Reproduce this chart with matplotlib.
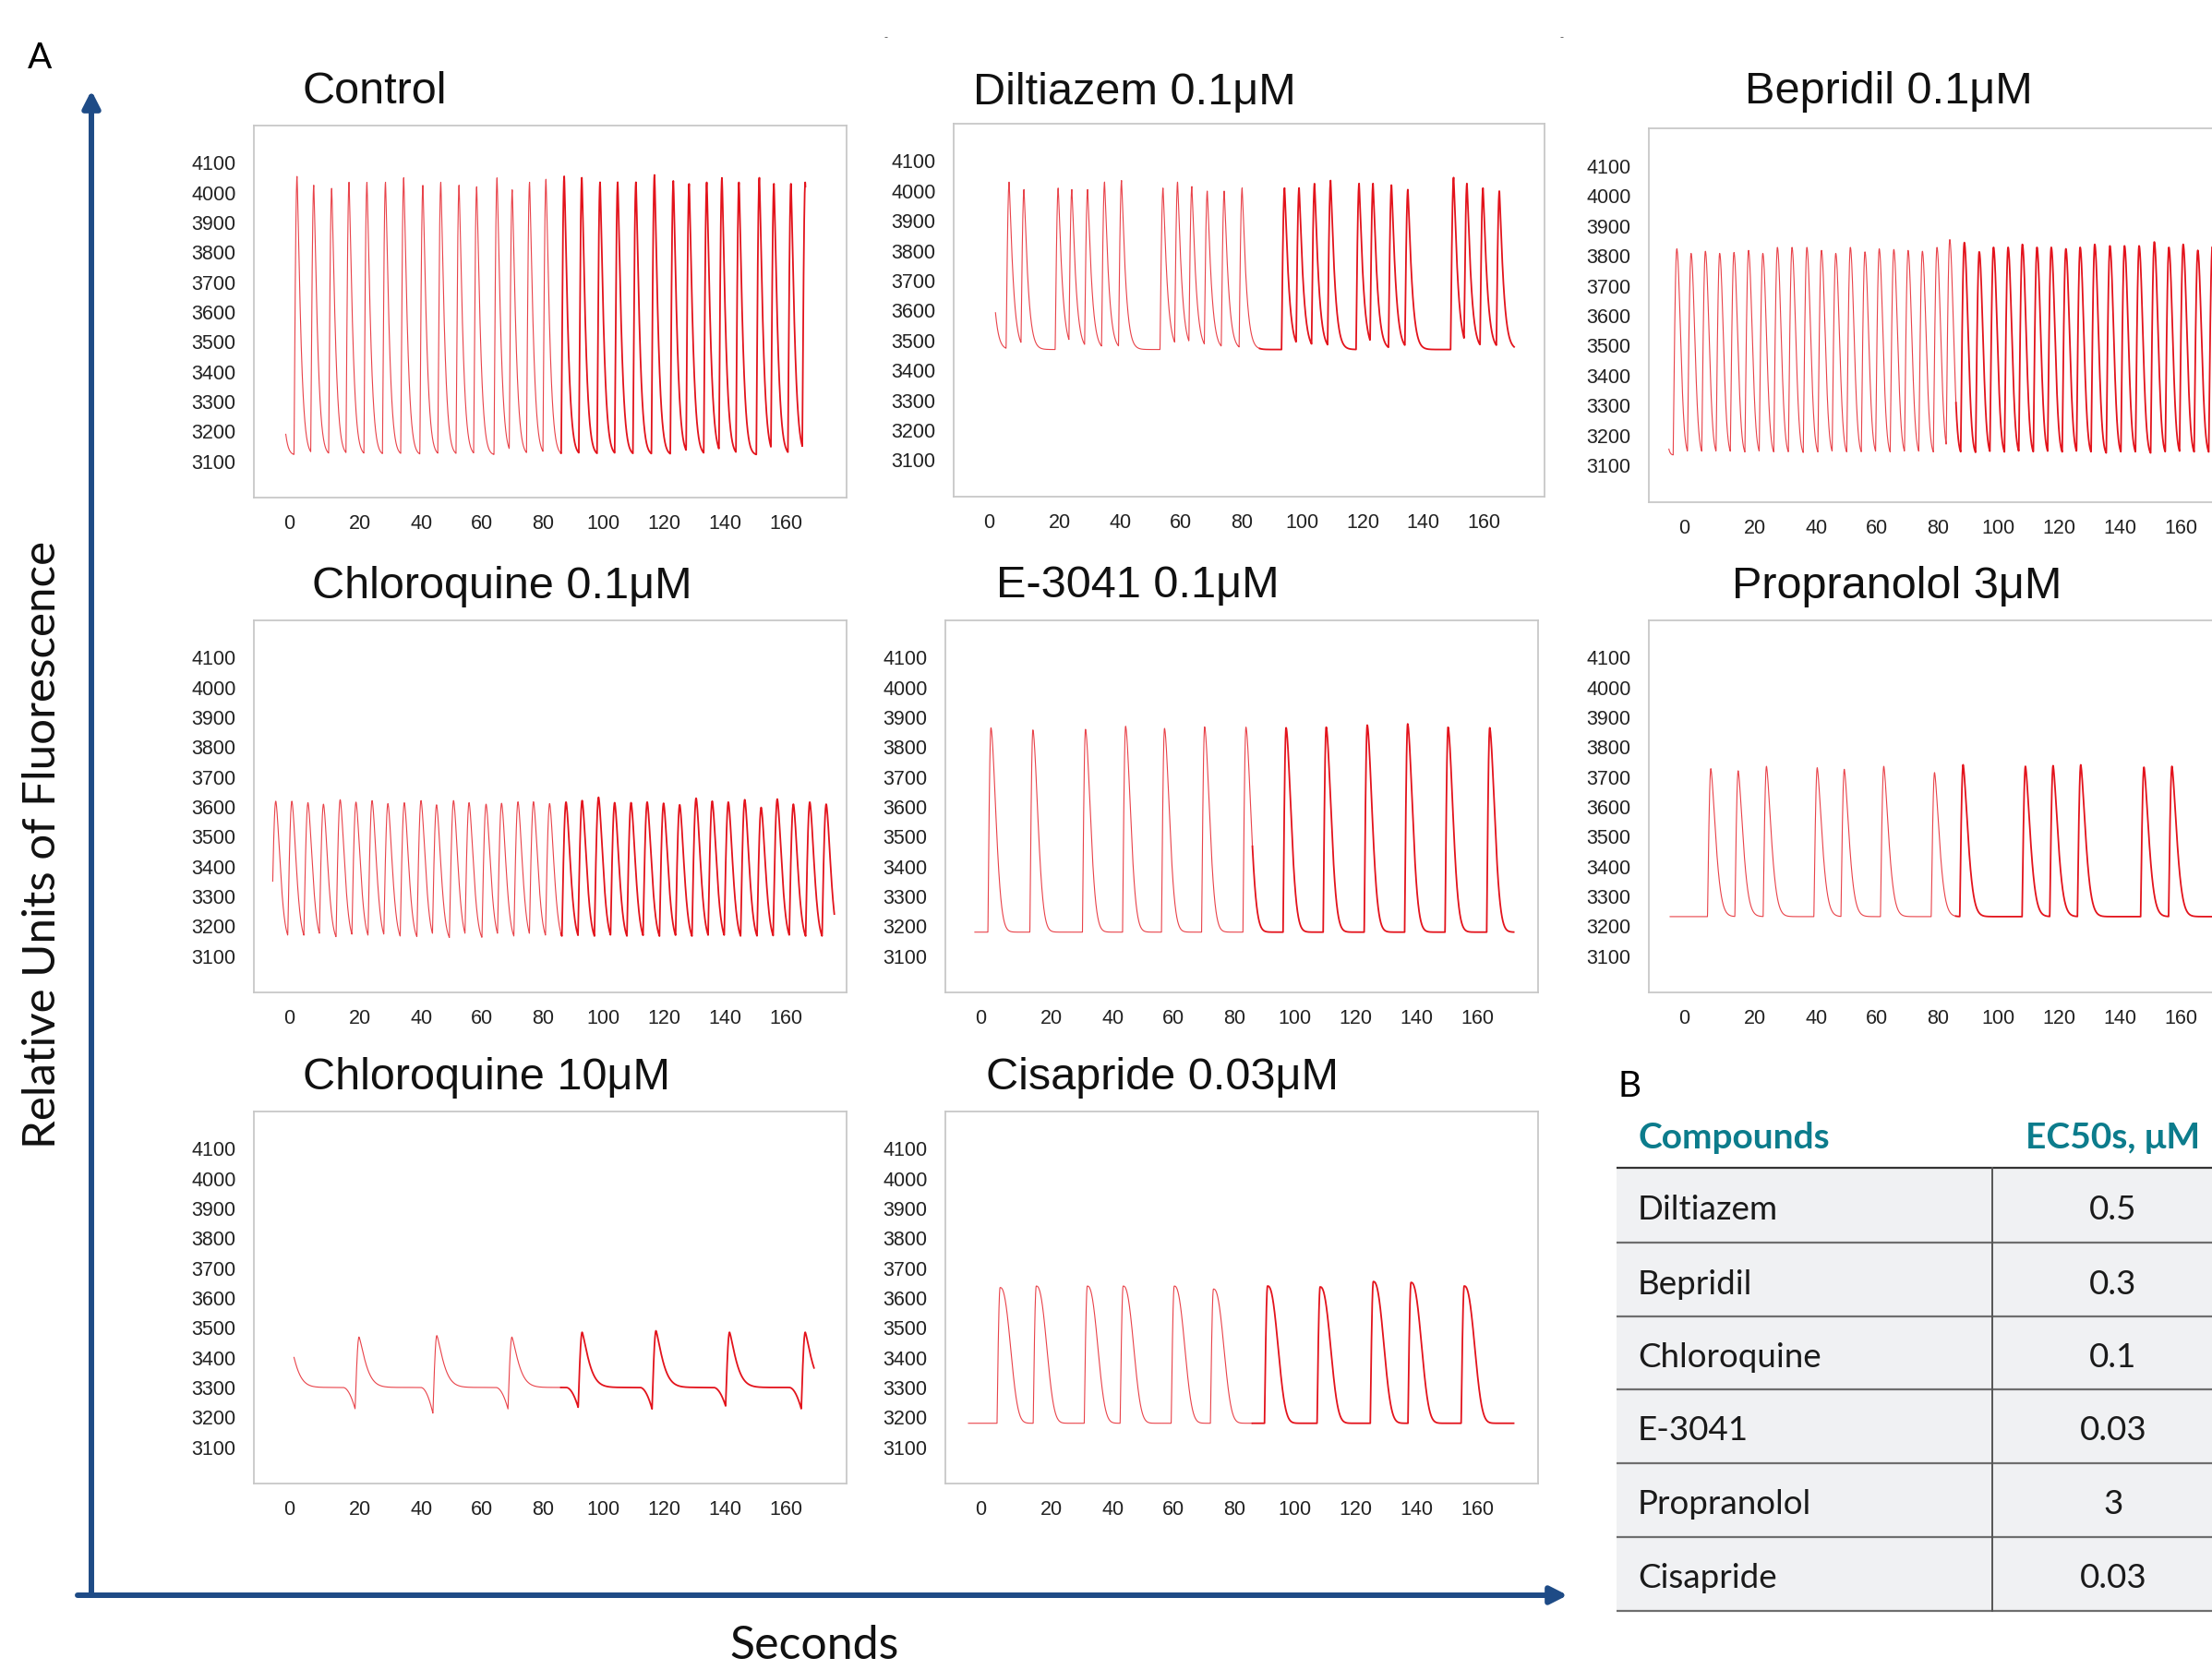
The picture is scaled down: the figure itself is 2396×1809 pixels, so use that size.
import numpy as np
import matplotlib
matplotlib.use("Agg")
import matplotlib.pyplot as plt
from matplotlib.patches import Rectangle
from matplotlib.transforms import ScaledTranslation

plt.rcParams["font.family"] = ["Liberation Sans", "DejaVu Sans"]

W, H = 2396, 1809

# ---- trace data: peak time (s) and peak height (RFU) ----
control_t = [-7.5, -0.8, 4.7, 10.6, 16.3, 22.2, 28.3, 34.3, 40.6, 46.5, 52.5, 58.3, 65.0,
             70.0, 75.7, 81.1, 87.1, 92.9, 98.9, 104.7, 110.7, 116.8, 123.0, 128.2, 134.0,
             139.0, 144.6, 151.3, 156.1, 161.7, 166.4]
control_v = [4040, 4055, 4025, 4015, 4035, 4035, 4035, 4050, 4025, 4035, 4025, 4020, 4050,
             4010, 4035, 4045, 4055, 4050, 4035, 4035, 4035, 4060, 4040, 4030, 4035,
             4050, 4035, 4050, 4030, 4030, 4035]

diltiazem_t = [-3.3, 3.3, 8.2, 19.5, 24.0, 29.2, 34.8, 40.4, 54.1, 58.9, 63.6, 68.7, 74.3,
               80.2, 94.2, 99.0, 104.1, 109.4, 118.8, 123.4, 129.5, 134.9, 150.0, 154.4,
               159.7, 165.1]
diltiazem_v = [4020, 4030, 4005, 4010, 4005, 4005, 4030, 4035, 4010, 4030, 4015, 4000, 4000,
               4010, 4010, 4010, 4025, 4035, 4025, 4025, 4020, 4005, 4045, 4025, 4010, 4000]

bepridil_t = [-11.7, -5.8, -1.1, 3.6, 8.3, 13.0, 17.8, 22.5, 27.3, 32.1, 37.0, 41.8, 46.5,
              51.3, 56.1, 60.8, 65.6, 70.3, 75.0, 79.8, 84.0, 88.8, 93.7, 98.4, 103.2,
              107.9, 112.7, 117.4, 122.2, 126.9, 131.7, 136.7, 141.5, 146.3, 151.3, 156.1,
              160.8, 165.6, 170.4]
bepridil_v = [3820, 3823, 3808, 3815, 3808, 3811, 3818, 3808, 3828, 3828, 3828, 3818, 3808,
              3828, 3813, 3823, 3821, 3818, 3815, 3828, 3854, 3844, 3813, 3828, 3828,
              3838, 3828, 3828, 3823, 3828, 3838, 3833, 3833, 3833, 3846, 3828,
              3838, 3818, 3830]

chloro01_t = [-7.8, -2.5, 2.8, 7.9, 13.4, 18.6, 23.9, 29.1, 34.5, 40.0, 45.1, 50.7, 55.8,
              61.4, 66.5, 71.9, 77.0, 82.3, 87.7, 93.0, 98.4, 103.7, 109.1, 114.4, 119.8,
              125.1, 130.5, 135.8, 141.1, 146.5, 151.9, 157.2, 162.5, 167.9, 173.3]
chloro01_v = [3619, 3619, 3614, 3609, 3624, 3616, 3621, 3611, 3614, 3621, 3607, 3621, 3614,
              3609, 3612, 3617, 3617, 3611, 3616, 3621, 3632, 3614, 3614, 3616, 3612,
              3607, 3629, 3619, 3616, 3624, 3598, 3626, 3609, 3616, 3609]

e3041_t = [0.0, 13.8, 31.1, 44.3, 57.1, 70.3, 83.9, 97.1, 110.3, 123.8, 137.1, 150.4, 164.1]
e3041_v = [3865, 3858, 3860, 3870, 3863, 3868, 3867, 3865, 3867, 3874, 3878, 3867, 3865]

propranolol_t = [5.4, 14.4, 23.7, 40.4, 49.3, 62.3, 79.0, 88.4, 108.9, 118.0, 127.1, 147.9, 157.1]
propranolol_v = [3728, 3721, 3736, 3731, 3726, 3736, 3715, 3741, 3736, 3738, 3741, 3733, 3736]

chloro10_t = [-3.5, 19.6, 45.2, 69.9, 93.0, 117.3, 141.5, 166.4]
chloro10_v = [3470, 3469, 3474, 3469, 3485, 3490, 3485, 3485]
chloro10_dip = [3300, 3228, 3213, 3228, 3233, 3228, 3238, 3228]

cisapride_t = [3.0, 14.9, 31.7, 43.5, 60.3, 73.2, 91.0, 108.3, 125.8, 138.2, 155.7]
cisapride_v = [3635, 3640, 3640, 3640, 3640, 3630, 3640, 3637, 3655, 3652, 3640]

titles = ["Control", "Diltiazem 0.1μM", "Bepridil 0.1μM",
          "Chloroquine 0.1μM", "E-3041 0.1μM", "Propranolol 3μM",
          "Chloroquine 10μM", "Cisapride 0.03μM"]

x_ticks = [0, 20, 40, 60, 80, 100, 120, 140, 160]
y_ticks = list(range(3100, 4101, 100))

compounds = ["Diltiazem", "Bepridil", "Chloroquine", "E-3041", "Propranolol", "Cisapride"]
ec50 = ["0.5", "0.3", "0.1", "0.03", "3", "0.03"]

# shape of each transient: baseline, rise time, decay tau, decay exponent, start, end
shapes = [
    dict(base=3120, rise=1.0, tau=1.45, p=1.3, start=-4.5, end=166.5),
    dict(base=3470, rise=1.0, tau=1.5, p=1.2, start=-1.2, end=170.0),
    dict(base=3135, rise=1.2, tau=1.7, p=1.9, start=-8.4, end=172.0),
    dict(base=3145, rise=1.4, tau=2.0, p=1.6, start=-8.8, end=176.0),
    dict(base=3180, rise=1.0, tau=2.3, p=1.7, start=-5.3, end=172.0),
    dict(base=3232, rise=1.1, tau=2.2, p=1.5, start=-8.0, end=172.0),
    dict(base=3300, rise=1.3, tau=2.8, p=1.3, start=-1.8, end=169.3),
    dict(base=3180, rise=1.0, tau=4.3, p=2.5, start=-7.4, end=172.0),
]
series = [(control_t, control_v, None), (diltiazem_t, diltiazem_v, None),
          (bepridil_t, bepridil_v, None), (chloro01_t, chloro01_v, None),
          (e3041_t, e3041_v, None), (propranolol_t, propranolol_v, None),
          (chloro10_t, chloro10_v, chloro10_dip), (cisapride_t, cisapride_v, None)]

# panel boxes in pixels: left, top, width, height
boxes = [(275, 136, 642, 403), (1033, 134, 640, 404), (1786, 139, 642, 405),
         (275, 672, 642, 403), (1024, 672, 642, 403), (1786, 672, 642, 403),
         (275, 1204, 642, 403), (1024, 1204, 642, 403)]
title_pos = [(328, 100), (1054, 100), (1890, 100), (338, 635), (1079, 635), (1876, 635),
             (328, 1168), (1068, 1168)]


def transient(t, base, peaks, values, rise, tau, p, dips=None, dip_w=4.0):
    top = np.zeros_like(t)
    low = np.zeros_like(t)
    for i, (tp, vp) in enumerate(zip(peaks, values)):
        dt = t - tp
        amp = vp - base
        c = np.zeros_like(t)
        dec = dt >= 0
        c[dec] = amp * np.exp(-(dt[dec] / tau) ** p)
        up = (dt < 0) & (dt > -rise)
        s = np.sin(np.pi / 2 * (1 + dt[up] / rise))
        c[up] = amp * s
        top = np.maximum(top, c)
        if dips is not None and dips[i] < base:
            d = dips[i] - base
            fall = (dt <= -rise) & (dt > -rise - dip_w)
            low[fall] += d * ((dt[fall] + rise + dip_w) / dip_w) ** 2
            low[up] += d * (1 - s)
    return base + top + low


fig = plt.figure(figsize=(W / 100, H / 100), dpi=100)
ov = fig.add_axes([0, 0, 1, 1])
ov.set_xlim(0, W)
ov.set_ylim(H, 0)
ov.axis("off")

red = "#E3131C"
for k in range(8):
    l, tp, w, h = boxes[k]
    ax = fig.add_axes([l / W, 1 - (tp + h) / H, w / W, h / H])
    sh = shapes[k]
    pk, vals, dips = series[k]
    t = np.arange(sh["start"], sh["end"], 0.04)
    y = transient(t, sh["base"], pk, vals, sh["rise"], sh["tau"], sh["p"], dips)
    cut = np.searchsorted(t, 86.0)
    ax.plot(t[:cut + 1], y[:cut + 1], color=red, lw=0.8, alpha=0.8)
    ax.plot(t[cut:], y[cut:], color=red, lw=1.3)
    ax.set_xlim(-15, 180)
    ax.set_ylim(2978, 4225)
    ax.set_xticks(x_ticks)
    ax.set_xticklabels([str(v) for v in x_ticks])
    ax.set_yticks(y_ticks)
    ax.set_yticklabels([str(v) for v in y_ticks])
    ax.tick_params(axis="both", length=0, labelsize=15.5, colors="#222222")
    ax.tick_params(axis="x", pad=13)
    ax.tick_params(axis="y", pad=14)
    for s in ax.spines.values():
        s.set_color("#C8C8C8")
        s.set_linewidth(1.3)
    # the "0" label sits a bit left of its tick in the original
    lab0 = ax.get_xticklabels()[0]
    lab0.set_transform(lab0.get_transform() + ScaledTranslation(-0.11, 0, fig.dpi_scale_trans))
    x0, y0 = title_pos[k]
    ov.text(x0, y0, titles[k], fontsize=35, ha="left", va="center", color="#111111")

# big axes arrows
navy = "#1E4B86"
ov.annotate("", xy=(99, 98), xytext=(99, 1728),
            arrowprops=dict(arrowstyle="-|>,head_length=0.55,head_width=0.28",
                            lw=4.3, color=navy, mutation_scale=20, shrinkA=0, shrinkB=0))
ov.annotate("", xy=(1698, 1728), xytext=(84, 1728),
            arrowprops=dict(arrowstyle="-|>,head_length=0.55,head_width=0.28",
                            lw=4.3, color=navy, mutation_scale=20, shrinkA=0, shrinkB=0))
ov.text(46, 915, "Relative Units of Fluorescence", rotation=90, fontsize=35.5,
        family="Lato", ha="center", va="center", color="#111111")
ov.text(882, 1806, "Seconds", fontsize=36, family="Lato", ha="center", va="bottom",
        color="#111111")
ov.text(43, 63, "A", fontsize=28, family="Lato", ha="center", va="center")
ov.text(960, 41, "-", fontsize=9, color="#555555", ha="center", va="center")
ov.text(1692, 41, "-", fontsize=9, color="#555555", ha="center", va="center")

# table B
ov.text(1765, 1177, "B", fontsize=28, family="Lato", ha="center", va="center")
teal = "#0C7C8C"
ov.text(1774, 1233, "Compounds", fontsize=28, family="Lato", weight="bold", color=teal,
        ha="left", va="center")
ov.text(2289, 1233, "EC50s, μM", fontsize=28, family="Lato", weight="bold", color=teal,
        ha="center", va="center")
row_edges = [1265, 1346, 1426, 1505, 1585, 1665, 1745]
t_left, t_div = 1751, 2158
for i, (name, val) in enumerate(zip(compounds, ec50)):
    y_top, y_bot = row_edges[i], row_edges[i + 1]
    ov.add_patch(Rectangle((t_left, y_top), W - t_left, y_bot - y_top,
                           facecolor="#F0F1F3", edgecolor="none"))
    yc = (y_top + y_bot) / 2 + 5
    ov.text(1774, yc, name, fontsize=26.5, family="Lato", ha="left", va="center",
            color="#1A1A1A")
    ov.text(2289, yc, val, fontsize=26.5, family="Lato", ha="center", va="center",
            color="#1A1A1A")
for j, yl in enumerate(row_edges):
    c = "#333333" if j == 0 else "#6E6E6E"
    ov.plot([t_left, W], [yl, yl], color=c, lw=1.6, solid_capstyle="butt")
ov.plot([t_div, t_div], [row_edges[0], row_edges[-1]], color="#555555", lw=1.4)

fig.savefig("out.png", dpi=100)
